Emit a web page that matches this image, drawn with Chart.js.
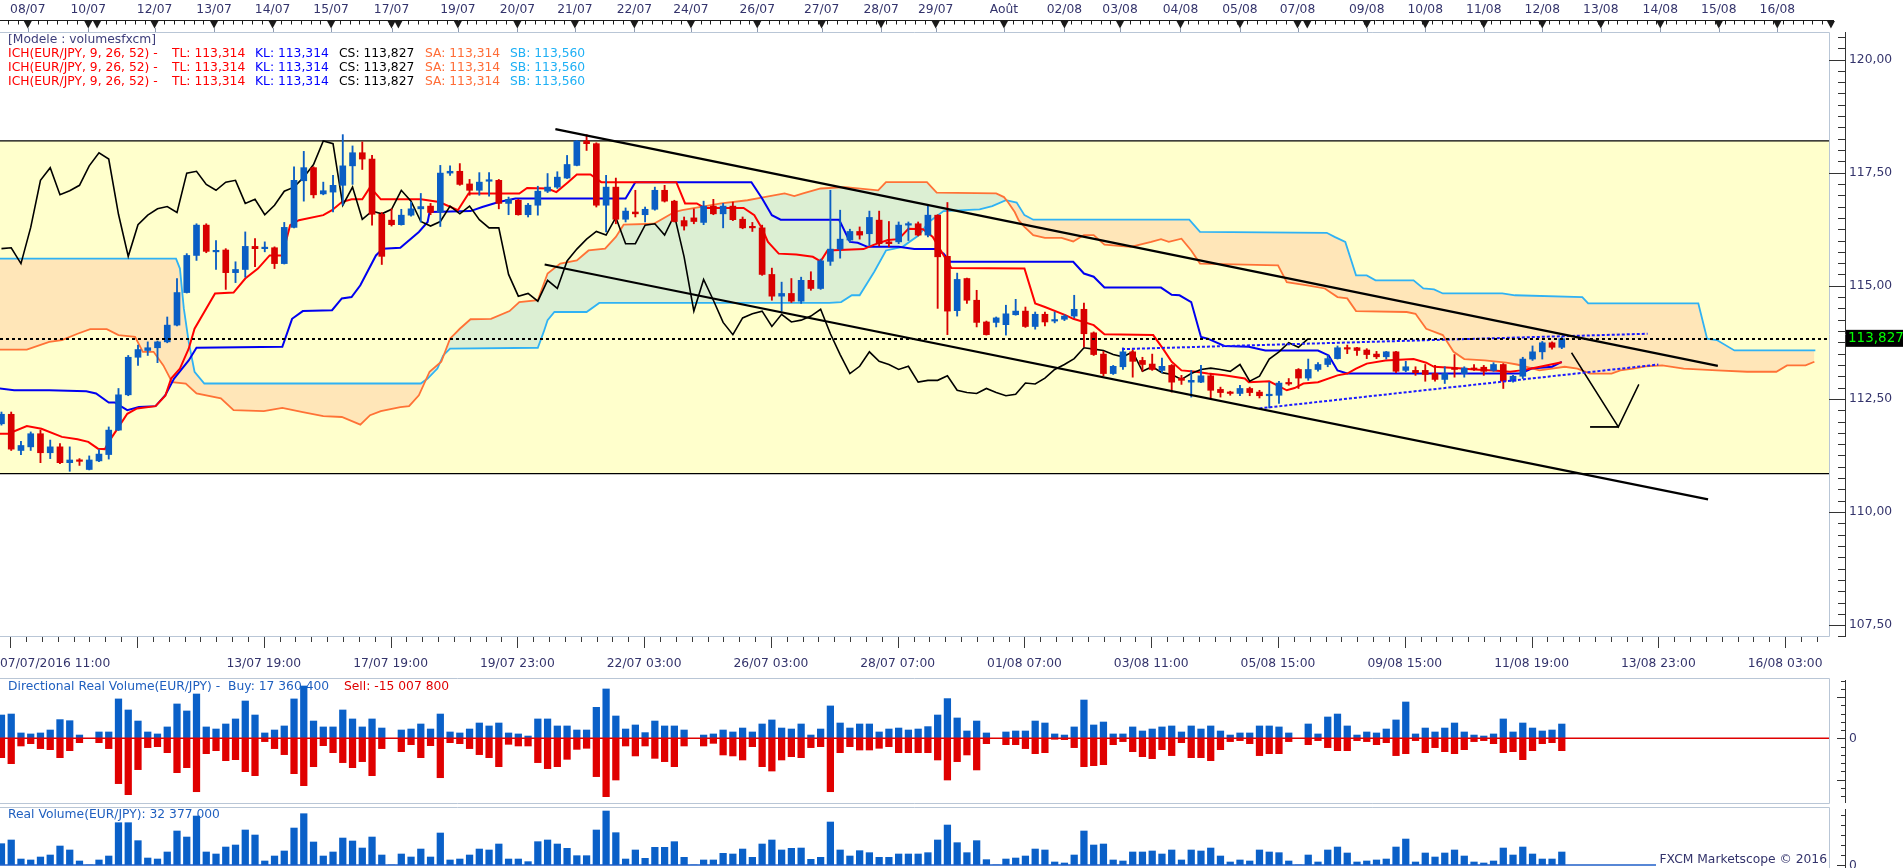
<!DOCTYPE html>
<html>
<head>
<meta charset="utf-8">
<title>EUR/JPY Ichimoku</title>
<script src="https://cdn.jsdelivr.net/npm/chart.js@4.4.0/dist/chart.umd.min.js"></script>
<style>
  html, body { margin: 0; padding: 0; background: #fff; overflow: hidden; }
  .panel { position: absolute; left: 0; width: 1903px; }
  #mainBox { top: 0; height: 678px; }
  #dirBox { top: 678px; height: 127px; }
  #volBox { top: 805px; height: 63px; }
</style>
</head>
<body>
<div class="panel" id="mainBox"><canvas id="mainChart"></canvas></div>
<div class="panel" id="dirBox"><canvas id="dirChart"></canvas></div>
<div class="panel" id="volBox"><canvas id="volChart"></canvas></div>
<script>
// ---- candles (4H, index 0 = 07/07/2016 11:00) ----
const candleOpen = [111.95,112.16,111.36,111.44,111.73,111.31,111.44,111.09,111.15,110.94,
 111.13,111.27,111.81,112.59,113.42,113.57,113.63,113.76,114.13,114.85,
 115.67,116.34,115.75,115.79,115.29,115.36,115.87,115.82,115.84,115.49,
 116.29,117.32,117.61,117.03,117.07,117.22,117.65,117.94,117.80,116.58,
 116.45,116.35,116.56,116.70,116.76,116.63,117.49,117.53,117.25,117.11,
 117.31,117.33,116.82,116.89,116.57,116.78,117.09,117.18,117.38,117.66,
 118.20,118.14,116.78,117.18,116.47,116.63,116.57,116.69,117.11,116.87,
 116.44,116.50,116.40,116.76,116.59,116.76,116.47,116.30,116.28,115.25,
 114.77,114.83,114.66,115.12,114.94,115.54,115.81,116.01,116.20,116.15,
 116.45,115.97,115.97,116.34,116.37,116.12,116.56,115.65,114.45,115.16,
 114.68,114.20,114.19,114.14,114.36,114.44,114.10,114.37,114.22,114.26,
 114.33,114.48,113.96,113.49,113.06,113.21,113.54,113.35,113.27,113.13,
 113.24,112.96,112.87,112.87,113.01,112.71,112.65,112.62,112.73,112.65,
 112.57,112.58,112.86,113.15,112.96,113.15,113.26,113.39,113.61,113.63,
 113.58,113.49,113.43,113.54,113.13,113.13,113.13,113.06,112.93,113.18,
 113.06,113.18,113.20,113.13,113.26,112.89,113.00,113.38,113.54,113.74,
 113.64];
const candleHigh = [112.21,112.21,111.56,111.77,111.81,111.59,111.51,111.44,111.18,111.24,
 111.38,111.88,112.73,113.46,113.69,113.76,113.78,114.31,115.16,115.71,
 116.37,116.37,116.00,115.82,115.53,116.19,116.04,115.97,115.86,116.40,
 117.63,117.97,117.63,117.29,117.44,118.34,118.09,118.18,117.88,116.62,
 116.70,116.69,116.85,117.04,116.82,117.66,117.65,117.70,117.35,117.50,
 117.50,117.35,116.96,116.91,116.82,117.20,117.48,117.52,117.88,118.21,
 118.34,118.16,117.44,117.38,116.72,117.11,116.74,117.18,117.22,116.89,
 116.52,116.70,116.87,116.91,116.82,116.85,116.52,116.40,116.34,115.39,
 115.08,115.16,115.19,115.31,115.59,117.11,116.67,116.25,116.30,116.65,
 116.65,116.42,116.41,116.41,116.41,116.76,116.57,116.84,115.28,115.17,
 114.90,114.22,114.31,114.57,114.70,114.53,114.42,114.42,114.42,114.36,
 114.79,114.62,113.98,113.55,113.24,113.63,113.59,113.42,113.49,113.40,
 113.26,113.02,113.13,113.24,113.06,112.76,112.67,112.80,112.76,112.69,
 112.87,112.89,112.95,113.17,113.38,113.30,113.46,113.67,113.69,113.64,
 113.61,113.55,113.55,113.55,113.33,113.21,113.26,113.24,113.21,113.48,
 113.21,113.26,113.24,113.30,113.28,113.02,113.42,113.67,113.77,113.76,
 113.87];
const candleLow = [111.92,111.36,111.27,111.36,111.09,111.18,111.07,110.90,111.03,110.93,
 111.11,111.17,111.80,112.57,113.24,113.46,113.30,113.74,114.11,114.84,
 115.56,115.73,115.36,114.92,115.07,115.19,115.42,115.75,115.38,115.48,
 116.28,116.87,116.94,117.01,116.63,116.78,117.24,117.57,116.34,115.47,
 116.32,116.34,116.54,116.41,116.57,116.31,117.44,117.22,117.00,117.00,
 116.98,116.70,116.57,116.56,116.52,116.56,117.06,117.15,117.37,117.65,
 117.99,116.74,116.19,116.37,116.41,116.52,116.41,116.67,116.85,116.41,
 116.23,116.37,116.35,116.57,116.28,116.44,116.26,116.20,115.23,114.68,
 114.44,114.63,114.61,114.90,114.92,115.45,115.61,115.97,116.03,115.89,
 115.88,115.86,115.93,116.00,116.10,116.08,114.50,113.92,114.33,114.61,
 114.09,113.91,114.09,113.91,114.35,114.08,114.04,114.11,114.18,114.23,
 114.29,113.65,113.46,113.01,113.04,113.15,112.98,113.11,113.13,113.08,
 112.65,112.82,112.54,112.86,112.52,112.54,112.58,112.57,112.57,112.52,
 112.30,112.40,112.80,112.73,112.91,113.11,113.21,113.38,113.50,113.46,
 113.39,113.39,113.38,113.08,113.10,113.02,112.89,112.89,112.84,112.98,
 112.98,113.13,113.02,113.11,112.73,112.87,112.95,113.35,113.38,113.60,
 113.61];
const candleClose = [112.16,111.39,111.47,111.73,111.31,111.44,111.09,111.15,111.12,111.15,
 111.28,111.81,112.59,113.42,113.59,113.63,113.76,114.13,114.85,115.67,
 116.34,115.76,115.78,115.29,115.36,115.87,115.82,115.84,115.49,116.29,
 117.33,117.61,117.01,117.10,117.22,117.65,117.94,117.80,116.58,115.65,
 116.35,116.56,116.70,116.75,116.62,117.49,117.53,117.24,117.11,117.29,
 117.33,116.82,116.91,116.57,116.78,117.09,117.18,117.40,117.68,118.20,
 118.14,116.78,117.18,116.47,116.65,116.59,116.69,117.11,116.87,116.42,
 116.32,116.42,116.76,116.59,116.76,116.46,116.28,116.28,115.25,114.77,
 114.83,114.66,115.12,114.94,115.55,115.81,116.03,116.20,116.12,116.51,
 115.93,115.93,116.34,116.37,116.12,116.56,115.64,114.44,115.14,114.68,
 114.19,113.92,114.29,114.38,114.44,114.10,114.37,114.20,114.24,114.33,
 114.48,113.94,113.48,113.06,113.22,113.54,113.33,113.26,113.15,113.22,
 112.87,112.91,112.91,113.01,112.69,112.64,112.62,112.73,112.64,112.57,
 112.60,112.85,112.83,112.96,113.15,113.26,113.39,113.63,113.60,113.57,
 113.48,113.43,113.54,113.11,113.21,113.08,113.04,112.93,113.06,113.15,
 113.18,113.15,113.11,113.26,112.89,113.00,113.38,113.54,113.74,113.64,
 113.83];

// ---- volumes, millions ----
const buyVolume = [28.3,29.5,6.5,5.3,6.5,10.1,22.7,21.4,4.0,0,
 7.7,7.7,47.8,34.4,21.0,7.7,5.3,13.8,41.7,33.2,
 53.8,13.8,11.3,17.4,23.5,45.3,28.3,6.5,10.1,15.0,
 47.8,63.5,21.0,13.8,13.8,34.4,23.5,13.8,23.5,12.5,
 0,10.1,11.3,17.4,11.3,29.5,7.7,6.5,11.3,18.6,
 15.0,18.6,6.5,5.3,2.8,23.5,23.5,15.0,15.0,10.1,
 10.1,37.6,59.9,27.1,11.3,16.2,6.9,21.0,15.0,15.0,
 10.1,0,4.0,5.3,10.1,7.7,12.5,7.7,17.4,22.3,
 12.5,11.3,17.4,4.0,11.3,39.3,18.6,12.5,17.4,17.4,
 7.7,11.3,12.5,10.1,11.3,14.2,28.3,48.2,24.7,8.9,
 21.0,6.5,0,7.7,8.9,8.9,21.0,18.6,5.3,4.0,
 13.8,46.5,16.2,19.8,5.3,5.3,13.8,8.9,11.3,13.8,
 15.0,7.7,15.0,11.3,15.0,8.9,4.0,6.5,6.5,15.0,
 15.0,13.8,6.5,0,17.4,5.3,25.9,29.5,15.0,4.0,
 7.7,6.5,11.3,22.3,44.1,5.3,12.5,7.7,12.5,18.6,
 7.7,4.0,2.8,5.3,23.5,7.7,18.6,12.5,8.9,10.1,
 17.36];
const sellVolume = [-23.5,-30.8,-9.3,-6.5,-12.5,-13.8,-23.5,-15.0,-5.3,0,
 -5.3,-12.5,-55.0,-68.4,-38.0,-11.3,-10.1,-17.4,-41.7,-35.6,
 -64.8,-18.6,-15.0,-27.1,-25.9,-40.5,-45.3,-4.0,-12.5,-19.8,
 -42.9,-57.5,-34.4,-8.9,-17.4,-29.5,-35.6,-28.3,-45.3,-12.5,
 0,-16.2,-7.7,-23.5,-8.9,-47.8,-5.3,-6.5,-12.5,-19.8,
 -23.5,-34.4,-7.3,-9.3,-9.3,-29.5,-36.8,-34.4,-25.5,-13.4,
 -12.1,-46.5,-70.8,-50.6,-9.3,-21.4,-9.3,-24.3,-28.3,-34.4,
 -9.3,0,-9.3,-6.1,-20.2,-21.4,-26.3,-10.1,-34.4,-39.7,
 -26.3,-22.3,-23.5,-11.3,-10.1,-64.8,-17.4,-10.1,-14.2,-14.2,
 -12.1,-10.1,-17.4,-17.4,-17.4,-17.4,-26.3,-50.6,-28.3,-20.2,
 -38.4,-6.5,0,-7.7,-7.7,-12.5,-18.6,-17.4,-1.2,-1.6,
 -11.3,-34.4,-33.2,-32.0,-7.7,-4.0,-16.2,-22.3,-24.7,-13.8,
 -21.0,-5.3,-23.5,-23.5,-27.1,-13.8,-4.0,-2.8,-6.5,-21.0,
 -18.6,-18.6,-4.0,0,-7.7,-2.8,-11.3,-15.0,-15.0,-2.8,
 -4.0,-7.7,-5.3,-21.0,-18.6,-2.8,-17.4,-11.3,-16.2,-18.6,
 -13.8,-4.0,-2.8,-6.5,-17.4,-16.2,-25.9,-15.0,-6.5,-5.3,
 -15.01];
const realVolume = [53.1,62.3,14.9,12.5,19.9,24.9,47.3,37.4,10.0,0,
 12.5,22.4,105.4,105.4,60.6,17.4,14.9,32.4,84.7,69.7,
 122.0,32.4,27.4,44.8,49.8,87.2,74.7,10.0,22.4,34.9,
 92.1,127.8,57.3,22.4,32.4,67.2,59.8,42.3,69.7,24.9,
 0,27.4,19.9,39.8,19.9,79.7,12.5,14.9,24.9,39.8,
 37.4,52.3,14.9,14.9,8.3,58.1,62.3,52.3,41.5,23.2,
 23.2,87.2,134.5,80.5,14.9,37.4,16.6,44.0,44.0,58.1,
 19.1,0,12.5,12.5,29.1,27.4,39.8,19.1,52.3,62.3,
 37.4,41.5,42.3,14.1,19.1,107.1,37.4,22.4,35.7,30.7,
 19.1,19.1,27.4,27.4,27.4,30.7,62.3,99.6,55.6,30.7,
 60.6,13.3,0,14.9,17.4,22.4,39.8,37.4,7.5,5.0,
 24.9,84.7,49.8,52.3,12.5,10.0,32.4,32.4,34.9,27.4,
 37.4,12.5,37.4,34.9,42.3,22.4,7.5,12.5,10.0,37.4,
 32.4,30.7,10.0,0,24.9,7.5,37.4,44.8,29.9,7.5,
 10.0,12.5,14.9,44.8,64.7,7.5,29.9,19.9,29.9,37.4,
 22.4,7.5,5.0,10.0,42.3,24.9,44.8,27.4,14.9,14.9,
 32.38];

// ---- ichimoku lines as [candle index, price] breakpoints ----
const tenkanLine = [[-0.2,111.73],[0.7,111.73],[2.6,111.90],[4.1,111.84],[6.2,111.66],[7.8,111.61],[8.9,111.55],[9.9,111.40],[10.6,111.39],[11.0,111.55],[11.8,111.81],[12.9,112.17],[13.9,112.29],[15.8,112.34],[16.8,112.57],[17.4,112.95],[18.3,113.17],[19.2,113.61],[19.8,114.05],[21.9,114.83],[23.8,114.85],[25.0,115.16],[26.3,115.38],[27.5,115.67],[28.8,115.67],[29.6,116.34],[30.5,116.45],[33.0,116.56],[33.9,116.67],[34.9,116.85],[35.9,116.91],[37.0,116.91],[37.8,117.18],[38.9,116.91],[43.0,116.91],[44.9,116.85],[46.8,116.67],[47.9,117.04],[53.1,117.04],[53.9,117.16],[56.0,117.15],[56.9,117.07],[58.1,117.29],[59.0,117.46],[60.4,117.46],[61.5,117.29],[69.2,117.29],[70.1,116.82],[71.3,116.82],[72.1,116.72],[76.1,116.72],[77.2,116.56],[78.0,116.26],[78.6,115.97],[79.7,115.71],[81.5,115.69],[83.2,115.64],[84.0,115.54],[84.7,115.78],[88.4,115.81],[89.5,115.91],[90.9,116.01],[92.0,116.03],[93.0,116.26],[94.5,116.25],[95.5,116.08],[97.0,115.53],[97.4,115.39],[104.9,115.38],[106.0,114.61],[107.0,114.53],[109.1,114.35],[109.9,114.27],[112.0,114.13],[113.1,113.93],[118.1,113.91],[119.1,113.61],[120.0,113.32],[121.0,113.13],[122.5,113.10],[123.7,113.06],[125.4,113.02],[127.5,112.95],[127.9,112.87],[130.0,112.89],[131.8,112.69],[132.6,112.74],[133.5,112.84],[135.0,112.87],[137.0,113.02],[138.0,113.06],[138.9,113.17],[140.0,113.28],[141.9,113.35],[144.8,113.38],[146.1,113.30],[146.9,113.21],[149.1,113.18],[151.0,113.15],[153.0,113.13],[154.7,113.10],[155.8,113.13],[156.9,113.17],[160.0,113.31]];
const kijunLine = [[-0.2,112.73],[1.3,112.69],[4.9,112.69],[8.7,112.67],[9.7,112.62],[11.0,112.42],[11.6,112.42],[12.9,112.25],[14.1,112.32],[15.8,112.34],[16.8,112.58],[17.7,112.95],[19.2,113.35],[20.0,113.63],[28.8,113.65],[29.8,114.27],[30.9,114.44],[33.9,114.46],[34.9,114.72],[35.9,114.75],[36.8,115.01],[38.4,115.67],[39.1,115.82],[40.9,115.84],[42.8,116.19],[43.7,116.41],[43.9,116.63],[48.1,116.65],[49.3,116.74],[51.0,116.85],[52.7,116.93],[64.0,116.93],[65.0,117.29],[76.9,117.29],[78.0,116.93],[79.0,116.56],[79.9,116.46],[85.9,116.46],[87.0,115.97],[87.8,115.95],[88.8,115.86],[92.0,115.86],[93.6,115.81],[95.7,115.81],[96.6,115.71],[97.3,115.53],[109.9,115.53],[111.0,115.27],[112.0,115.20],[113.1,114.96],[118.9,114.96],[120.0,114.80],[120.8,114.79],[122.0,114.64],[123.0,113.87],[123.7,113.83],[125.4,113.67],[127.9,113.65],[129.6,113.57],[135.0,113.57],[136.1,113.46],[137.0,113.13],[138.0,113.06],[155.8,113.06],[156.9,113.17],[159.0,113.21],[160.0,113.32]];
const senkouALine = [[-0.2,113.59],[2.6,113.59],[4.9,113.76],[6.2,113.80],[7.8,113.94],[9.1,114.04],[10.8,114.04],[12.0,113.91],[13.7,113.87],[14.5,113.54],[15.6,113.54],[16.6,113.24],[17.5,112.87],[18.9,112.84],[20.0,112.62],[22.5,112.51],[23.8,112.25],[26.9,112.23],[28.8,112.30],[30.9,112.21],[33.0,112.12],[34.9,112.10],[36.8,111.93],[37.8,112.14],[38.9,112.23],[40.9,112.32],[41.8,112.34],[42.8,112.58],[43.9,113.10],[45.1,113.32],[46.0,113.83],[47.0,114.05],[48.1,114.26],[50.2,114.27],[52.1,114.44],[53.1,114.64],[55.0,114.68],[56.0,115.27],[57.3,115.49],[59.0,115.56],[60.2,115.78],[61.9,115.82],[63.0,116.08],[63.8,116.35],[66.9,116.37],[69.0,116.63],[69.8,116.67],[73.8,116.82],[76.5,116.89],[77.8,116.94],[80.3,117.04],[81.3,116.98],[82.2,117.04],[84.0,117.15],[86.5,117.18],[89.9,117.11],[90.7,117.29],[94.9,117.29],[95.9,117.06],[102.0,117.04],[102.8,116.96],[103.2,116.85],[103.9,116.63],[104.3,116.45],[104.9,116.30],[105.8,116.12],[107.0,116.06],[108.7,116.06],[109.9,115.98],[111.0,116.12],[112.0,116.12],[113.1,115.91],[115.8,115.86],[117.9,115.97],[118.9,116.03],[119.7,115.97],[121.0,116.04],[122.0,115.78],[122.9,115.49],[130.9,115.45],[131.8,115.08],[133.9,115.01],[135.7,114.94],[137.0,114.75],[138.0,114.72],[138.9,114.44],[144.1,114.42],[145.0,114.38],[146.1,114.05],[147.8,113.91],[148.9,113.54],[150.0,113.38],[152.1,113.35],[154.3,113.30],[155.4,113.26],[156.4,113.21],[157.7,113.13],[159.0,113.17],[160.3,113.21],[161.6,113.17],[162.9,113.06],[165.1,113.06],[166.0,113.13],[167.3,113.17],[168.6,113.22],[170.3,113.24],[172.5,113.17],[175.9,113.13],[179.0,113.10],[182.0,113.10],[183.1,113.24],[185.0,113.24],[185.9,113.32]];
const senkouBLine = [[-0.2,115.60],[17.9,115.60],[18.3,115.38],[18.7,114.50],[19.2,113.76],[19.8,113.10],[20.8,112.84],[43.0,112.84],[43.7,112.95],[44.7,113.17],[45.3,113.46],[46.0,113.61],[55.0,113.63],[55.6,113.98],[56.0,114.24],[56.7,114.42],[60.0,114.42],[61.3,114.62],[84.9,114.62],[86.1,114.64],[87.2,114.79],[88.0,114.79],[89.5,115.31],[90.7,115.78],[92.4,115.86],[94.1,116.12],[95.1,116.41],[96.6,116.65],[100.3,116.69],[101.6,116.76],[103.0,116.89],[104.1,116.84],[104.9,116.56],[105.8,116.46],[121.8,116.46],[122.9,116.19],[135.9,116.17],[136.7,116.08],[137.8,115.97],[138.9,115.23],[140.0,115.23],[140.9,115.12],[144.8,115.12],[145.8,114.94],[146.9,114.92],[147.8,114.83],[153.9,114.83],[155.2,114.79],[162.1,114.75],[162.7,114.61],[174.0,114.61],[174.9,113.83],[175.9,113.80],[177.7,113.57],[186.0,113.57]];
const chikouLag = 26;

// ---- drawn studies ----
const channelUpper = [[56.8,118.46],[176.0,113.23]];
const channelLower = [[55.7,115.47],[175.0,110.28]];
const dottedUpper = [[114.9,113.60],[168.8,113.94]];
const dottedLower = [[129.0,112.29],[169.9,113.26]];
const arrowPath = [[161.0,113.52],[165.8,111.88],[167.9,112.82]];
const arrowFoot = [[162.9,111.88],[165.8,111.88]];
const boxTop = 118.20, boxBottom = 110.85;
const lastClose = 113.827;

// ---- axes ----
const priceTickValues = [107.5, 110, 112.5, 115, 117.5, 120];
const priceTickLabels = ['107,50', '110,00', '112,50', '115,00', '117,50', '120,00'];
const lastCloseLabel = '113,827';
const topDayLabels = ['08/07','10/07','12/07','13/07','14/07','15/07','17/07','19/07','20/07','21/07','22/07','24/07','26/07','27/07','28/07','29/07','Août','02/08','03/08','04/08','05/08','07/08','09/08','10/08','11/08','12/08','13/08','14/08','15/08','16/08'];
const topDayIdx = [2.7,8.9,15.7,21.8,27.8,33.8,40.0,46.8,52.9,58.8,64.9,70.7,77.5,84.1,90.2,95.8,102.8,109.0,114.7,120.9,127.0,132.9,140.0,146.0,152.0,158.0,164.0,170.1,176.1,182.1];
const topExtraIdx = [9.8, 40.7, 133.9, 187.6];
const timeMajorIdx = [0.9,13.9,26.9,39.9,52.9,65.9,78.9,91.9,104.9,117.9,130.9,143.9,156.9,169.9,182.9];
const timeFirstLabel = '07/07/2016 11:00';
const timeLabels = ['13/07 19:00','17/07 19:00','19/07 23:00','22/07 03:00','26/07 03:00','28/07 07:00','01/08 07:00','03/08 11:00','05/08 15:00','09/08 15:00','11/08 19:00','13/08 23:00','16/08 03:00'];
const timeLabelIdx = [26.9,39.9,52.9,65.9,78.9,91.9,104.9,117.9,130.9,143.9,156.9,169.9,182.9];

// ---- texts ----
const modelText = '[Modele : volumesfxcm]';
const legendParts = ['ICH(EUR/JPY, 9, 26, 52) -', 'TL: 113,314', 'KL: 113,314', 'CS: 113,827', 'SA: 113,314', 'SB: 113,560'];
const legendColors = ['#ff0000', '#ff0000', '#0000ff', '#000000', '#ff6c36', '#1eb0f5'];
const legendPartX = [8, 172, 255, 339, 425, 510];
const legendRowsY = [54, 68, 82];
const dirTitleBuy = 'Directional Real Volume(EUR/JPY) -  Buy: 17 360 400';
const dirTitleSell = 'Sell: -15 007 800';
const volTitle = 'Real Volume(EUR/JPY): 32 377 000';
const copyrightText = 'FXCM Marketscope \u00a9 2016';

const X_MIN = -0.15, X_MAX = 187.4;
const FONT = '"DejaVu Sans", Verdana, sans-serif';
const AXIS_TEXT = '#33336b';
const PANEL_EDGE = '#b9c6d6';
const UP_COLOR = '#0a5ec4';
const DOWN_COLOR = '#d80000';

const pts = arr => arr.map(p => ({ x: p[0], y: p[1] }));
const candleColors = candleOpen.map((o, i) => candleClose[i] >= o ? UP_COLOR : DOWN_COLOR);
const chikouPts = candleClose.slice(chikouLag).map((c, i) => ({ x: i, y: c }));

function lineSet(data, color, width, extra) {
    return Object.assign({
        type: 'line', data: pts(data), borderColor: color, borderWidth: width,
        pointRadius: 0, tension: 0, fill: false, order: 0
    }, extra || {});
}

function drawMainFrame(chart) {
    const { ctx, chartArea: a } = chart;
    ctx.save();
    ctx.strokeStyle = PANEL_EDGE;
    ctx.lineWidth = 1;
    ctx.beginPath();
    ctx.moveTo(0, a.top + 0.5); ctx.lineTo(a.right + 0.5, a.top + 0.5);
    ctx.lineTo(a.right + 0.5, a.bottom - 0.5); ctx.lineTo(0, a.bottom - 0.5);
    ctx.stroke();
    ctx.restore();
}

function drawTopAxis(chart) {
    const { ctx, scales: { x } } = chart;
    ctx.save();
    ctx.strokeStyle = '#1a1a1a';
    ctx.fillStyle = '#1a1a1a';
    ctx.lineWidth = 1;
    ctx.beginPath(); ctx.moveTo(0, 20.5); ctx.lineTo(1834, 20.5); ctx.stroke();
    ctx.beginPath();
    for (let k = 0; k <= 187; k++) {
        const px = Math.round(x.getPixelForValue(k + 0.7)) + 0.5;
        if (px > 1834) break;
        ctx.moveTo(px, 20.5); ctx.lineTo(px, 24.5);
    }
    ctx.stroke();
    topDayIdx.concat(topExtraIdx).forEach(v => {
        const px = x.getPixelForValue(v);
        ctx.beginPath();
        ctx.moveTo(px - 4, 21); ctx.lineTo(px + 4, 21); ctx.lineTo(px, 28.5);
        ctx.closePath(); ctx.fill();
    });
    ctx.strokeStyle = '#8f9bb0';
    ctx.beginPath();
    topDayIdx.forEach(v => {
        const px = Math.round(x.getPixelForValue(v)) + 0.5;
        ctx.moveTo(px, 28); ctx.lineTo(px, 32);
    });
    ctx.stroke();
    ctx.font = '12.3px ' + FONT;
    ctx.fillStyle = AXIS_TEXT;
    ctx.textAlign = 'center';
    ctx.textBaseline = 'middle';
    topDayLabels.forEach((t, i) => ctx.fillText(t, x.getPixelForValue(topDayIdx[i]), 10));
    ctx.restore();
}

function drawBottomAxis(chart) {
    const { ctx, chartArea: a, scales: { x } } = chart;
    ctx.save();
    ctx.strokeStyle = '#3a3a3a';
    ctx.lineWidth = 1;
    ctx.beginPath();
    timeMajorIdx.forEach(v => {
        const px = Math.round(x.getPixelForValue(v)) + 0.5;
        ctx.moveTo(px, a.bottom); ctx.lineTo(px, a.bottom + 11);
        for (let j = 1; j < 8; j++) {
            const q = Math.round(x.getPixelForValue(v + j * 13 / 8)) + 0.5;
            if (q < a.right) { ctx.moveTo(q, a.bottom); ctx.lineTo(q, a.bottom + 5); }
        }
    });
    ctx.stroke();
    ctx.font = '12.3px ' + FONT;
    ctx.fillStyle = AXIS_TEXT;
    ctx.textBaseline = 'middle';
    ctx.textAlign = 'left';
    ctx.fillText(timeFirstLabel, 0, 664);
    ctx.textAlign = 'center';
    timeLabels.forEach((t, i) => ctx.fillText(t, x.getPixelForValue(timeLabelIdx[i]), 664));
    ctx.restore();
}

function drawPriceAxis(chart) {
    const { ctx, chartArea: a, scales: { y } } = chart;
    ctx.save();
    ctx.strokeStyle = '#333';
    ctx.lineWidth = 1;
    ctx.beginPath(); ctx.moveTo(1845.5, a.top); ctx.lineTo(1845.5, a.bottom); ctx.stroke();
    ctx.beginPath();
    for (let v = 107.25; v <= 120.51; v += 0.25) {
        const py = Math.round(y.getPixelForValue(v)) + 0.5;
        const major = Math.abs(v / 2.5 - Math.round(v / 2.5)) < 1e-6;
        ctx.moveTo(major ? a.right : 1838, py); ctx.lineTo(1845.5, py);
    }
    ctx.stroke();
    ctx.font = '12.3px ' + FONT;
    ctx.fillStyle = AXIS_TEXT;
    ctx.textBaseline = 'middle';
    priceTickValues.forEach((v, i) => ctx.fillText(priceTickLabels[i], 1849, y.getPixelForValue(v)));
    const py = y.getPixelForValue(lastClose);
    ctx.fillStyle = '#000';
    ctx.fillRect(1846, py - 9, 57, 17);
    ctx.font = '13.5px ' + FONT;
    ctx.fillStyle = '#00ff00';
    ctx.fillText(lastCloseLabel, 1848, py);
    ctx.restore();
}

function drawLegend(chart) {
    const ctx = chart.ctx;
    ctx.save();
    ctx.font = '12.3px ' + FONT;
    ctx.textBaseline = 'middle';
    ctx.fillStyle = '#3d3d7a';
    ctx.fillText(modelText, 8, 40);
    legendRowsY.forEach(ry => {
        legendParts.forEach((t, k) => {
            ctx.fillStyle = legendColors[k];
            ctx.fillText(t, legendPartX[k], ry);
        });
    });
    ctx.restore();
}

const mainDecor = {
    id: 'mainDecor',
    beforeDraw(chart) {
        const { ctx, chartArea: a, scales: { y } } = chart;
        const top = y.getPixelForValue(boxTop), bot = y.getPixelForValue(boxBottom);
        ctx.save();
        ctx.fillStyle = '#ffffcc';
        ctx.fillRect(a.left, top, a.right - a.left, bot - top);
        ctx.strokeStyle = '#000';
        ctx.lineWidth = 1.3;
        ctx.beginPath();
        ctx.moveTo(a.left, top); ctx.lineTo(a.right, top);
        ctx.moveTo(a.left, bot); ctx.lineTo(a.right, bot);
        ctx.stroke();
        ctx.restore();
    },
    afterDatasetsDraw(chart) {
        const { ctx, chartArea: a, scales: { y } } = chart;
        const py = Math.round(y.getPixelForValue(lastClose));
        ctx.save();
        ctx.strokeStyle = '#000';
        ctx.lineWidth = 2;
        ctx.setLineDash([3, 3]);
        ctx.beginPath(); ctx.moveTo(a.left, py); ctx.lineTo(a.right, py); ctx.stroke();
        ctx.restore();
    },
    afterDraw(chart) {
        drawMainFrame(chart);
        drawTopAxis(chart);
        drawBottomAxis(chart);
        drawPriceAxis(chart);
        drawLegend(chart);
    }
};

Chart.defaults.font.family = FONT;

new Chart(document.getElementById('mainChart'), {
    type: 'line',
    data: {
        datasets: [
            lineSet(senkouBLine, '#2fb2f4', 1.8, { order: 7 }),
            lineSet(senkouALine, '#ff7236', 1.8, { order: 6, fill: { target: 0, above: '#dcefd3', below: '#ffe6b8' } }),
            lineSet(kijunLine, '#0000f0', 2, { order: 5 }),
            lineSet(tenkanLine, '#ff0000', 2, { order: 4 }),
            {
                type: 'line', data: chikouPts, borderColor: '#000', borderWidth: 1.6,
                pointRadius: 0, tension: 0, fill: false, order: 3
            },
            {
                type: 'bar', data: candleHigh.map((h, i) => ({ x: i, y: [candleLow[i], h] })),
                backgroundColor: candleColors, barThickness: 1.2, grouped: false, order: 2
            },
            {
                type: 'bar', data: candleOpen.map((o, i) => ({ x: i, y: [o, candleClose[i]] })),
                backgroundColor: candleColors, barThickness: 6, grouped: false, minBarLength: 1.5, order: 1
            },
            lineSet(channelUpper, '#000', 2.2),
            lineSet(channelLower, '#000', 2.2),
            lineSet(dottedUpper, '#1a1aff', 2, { borderDash: [3, 2] }),
            lineSet(dottedLower, '#1a1aff', 2, { borderDash: [3, 2] }),
            lineSet(arrowPath, '#000', 1.5),
            lineSet(arrowFoot, '#000', 1.8)
        ]
    },
    options: {
        animation: false,
        responsive: true,
        maintainAspectRatio: false,
        layout: { padding: { left: 0, right: 74, top: 32, bottom: 41 } },
        scales: {
            x: { type: 'linear', min: X_MIN, max: X_MAX, display: false, offset: false },
            y: { min: 107.238, max: 120.608, display: false }
        },
        plugins: {
            legend: { display: false },
            tooltip: { enabled: false },
            filler: { propagate: false, drawTime: 'beforeDatasetsDraw' }
        }
    },
    plugins: [mainDecor]
});

function drawSideAxis(ctx, top, bottom, tickYs, longYs) {
    ctx.strokeStyle = '#333';
    ctx.lineWidth = 1;
    ctx.beginPath();
    ctx.moveTo(1845.5, top); ctx.lineTo(1845.5, bottom);
    tickYs.forEach(py => {
        const yy = Math.round(py) + 0.5;
        ctx.moveTo(longYs.indexOf(py) >= 0 ? 1837 : 1841, yy); ctx.lineTo(1845.5, yy);
    });
    ctx.stroke();
}

const dirDecor = {
    id: 'dirDecor',
    beforeDatasetsDraw(chart) {
        const ctx = chart.ctx;
        ctx.save();
        ctx.font = '12.3px ' + FONT;
        ctx.textBaseline = 'middle';
        ctx.fillStyle = '#1f5fbf';
        ctx.fillText(dirTitleBuy, 8, 9);
        ctx.fillStyle = '#e00000';
        ctx.fillText(dirTitleSell, 344, 9);
        ctx.restore();
    },
    afterDatasetsDraw(chart) {
        const { ctx, chartArea: a, scales: { y } } = chart;
        const py = y.getPixelForValue(0);
        ctx.save();
        ctx.strokeStyle = '#e00000';
        ctx.lineWidth = 1.5;
        ctx.beginPath(); ctx.moveTo(a.left, py); ctx.lineTo(a.right, py); ctx.stroke();
        ctx.restore();
    },
    afterDraw(chart) {
        const { ctx, chartArea: a, scales: { y } } = chart;
        ctx.save();
        ctx.strokeStyle = PANEL_EDGE;
        ctx.lineWidth = 1;
        ctx.beginPath();
        ctx.moveTo(0, 0.5); ctx.lineTo(a.right + 0.5, 0.5);
        ctx.lineTo(a.right + 0.5, a.bottom + 0.5); ctx.lineTo(0, a.bottom + 0.5);
        ctx.stroke();
        const ticks = [], longs = [];
        for (let v = -70; v <= 70; v += 10) {
            const py = y.getPixelForValue(v);
            ticks.push(py);
            if (v % 50 === 0) longs.push(py);
        }
        drawSideAxis(ctx, 2, a.bottom, ticks, longs);
        ctx.font = '12.3px ' + FONT;
        ctx.fillStyle = AXIS_TEXT;
        ctx.textBaseline = 'middle';
        ctx.fillText('0', 1849, y.getPixelForValue(0));
        ctx.restore();
    }
};

new Chart(document.getElementById('dirChart'), {
    type: 'bar',
    data: {
        datasets: [
            { data: buyVolume.map((v, i) => ({ x: i, y: v })), backgroundColor: '#0a60c8', barThickness: 6.6, grouped: false },
            { data: sellVolume.map((v, i) => ({ x: i, y: v })), backgroundColor: '#e00000', barThickness: 6.6, grouped: false }
        ]
    },
    options: {
        animation: false,
        responsive: true,
        maintainAspectRatio: false,
        layout: { padding: { left: 0, right: 74, top: 1, bottom: 2 } },
        scales: {
            x: { type: 'linear', min: X_MIN, max: X_MAX, display: false, offset: false },
            y: { min: -78.5, max: 72, display: false }
        },
        plugins: { legend: { display: false }, tooltip: { enabled: false } }
    },
    plugins: [dirDecor]
});

const volDecor = {
    id: 'volDecor',
    beforeDatasetsDraw(chart) {
        const ctx = chart.ctx;
        ctx.save();
        ctx.font = '12.3px ' + FONT;
        ctx.textBaseline = 'middle';
        ctx.fillStyle = '#1f5fbf';
        ctx.fillText(volTitle, 8, 10);
        ctx.restore();
    },
    afterDraw(chart) {
        const { ctx, chartArea: a, scales: { y } } = chart;
        ctx.save();
        const base = y.getPixelForValue(0);
        ctx.strokeStyle = '#1f5fc8';
        ctx.lineWidth = 1.5;
        ctx.beginPath(); ctx.moveTo(a.left, base); ctx.lineTo(a.right, base); ctx.stroke();
        ctx.strokeStyle = PANEL_EDGE;
        ctx.lineWidth = 1;
        ctx.beginPath();
        ctx.moveTo(0, 2.5); ctx.lineTo(a.right + 0.5, 2.5); ctx.lineTo(a.right + 0.5, 63);
        ctx.stroke();
        const ticks = [];
        for (let v = 0; v <= 125; v += 25) ticks.push(y.getPixelForValue(v));
        drawSideAxis(ctx, 4, 63, ticks, [ticks[0]]);
        ctx.font = '12.3px ' + FONT;
        ctx.textBaseline = 'middle';
        ctx.fillStyle = AXIS_TEXT;
        ctx.fillText('0', 1849, base + 1);
        ctx.fillStyle = '#fff';
        ctx.fillRect(1656, 46, a.right - 1656, 17);
        ctx.fillStyle = AXIS_TEXT;
        ctx.textAlign = 'right';
        ctx.fillText(copyrightText, a.right - 2, 55);
        ctx.restore();
    }
};

new Chart(document.getElementById('volChart'), {
    type: 'bar',
    data: {
        datasets: [
            { data: realVolume.map((v, i) => ({ x: i, y: v })), backgroundColor: '#0a60c8', barThickness: 6.6, grouped: false }
        ]
    },
    options: {
        animation: false,
        responsive: true,
        maintainAspectRatio: false,
        layout: { padding: { left: 0, right: 74, top: 3, bottom: 3 } },
        scales: {
            x: { type: 'linear', min: X_MIN, max: X_MAX, display: false, offset: false },
            y: { min: 0, max: 142, display: false }
        },
        plugins: { legend: { display: false }, tooltip: { enabled: false } }
    },
    plugins: [volDecor]
});
</script>
</body>
</html>
